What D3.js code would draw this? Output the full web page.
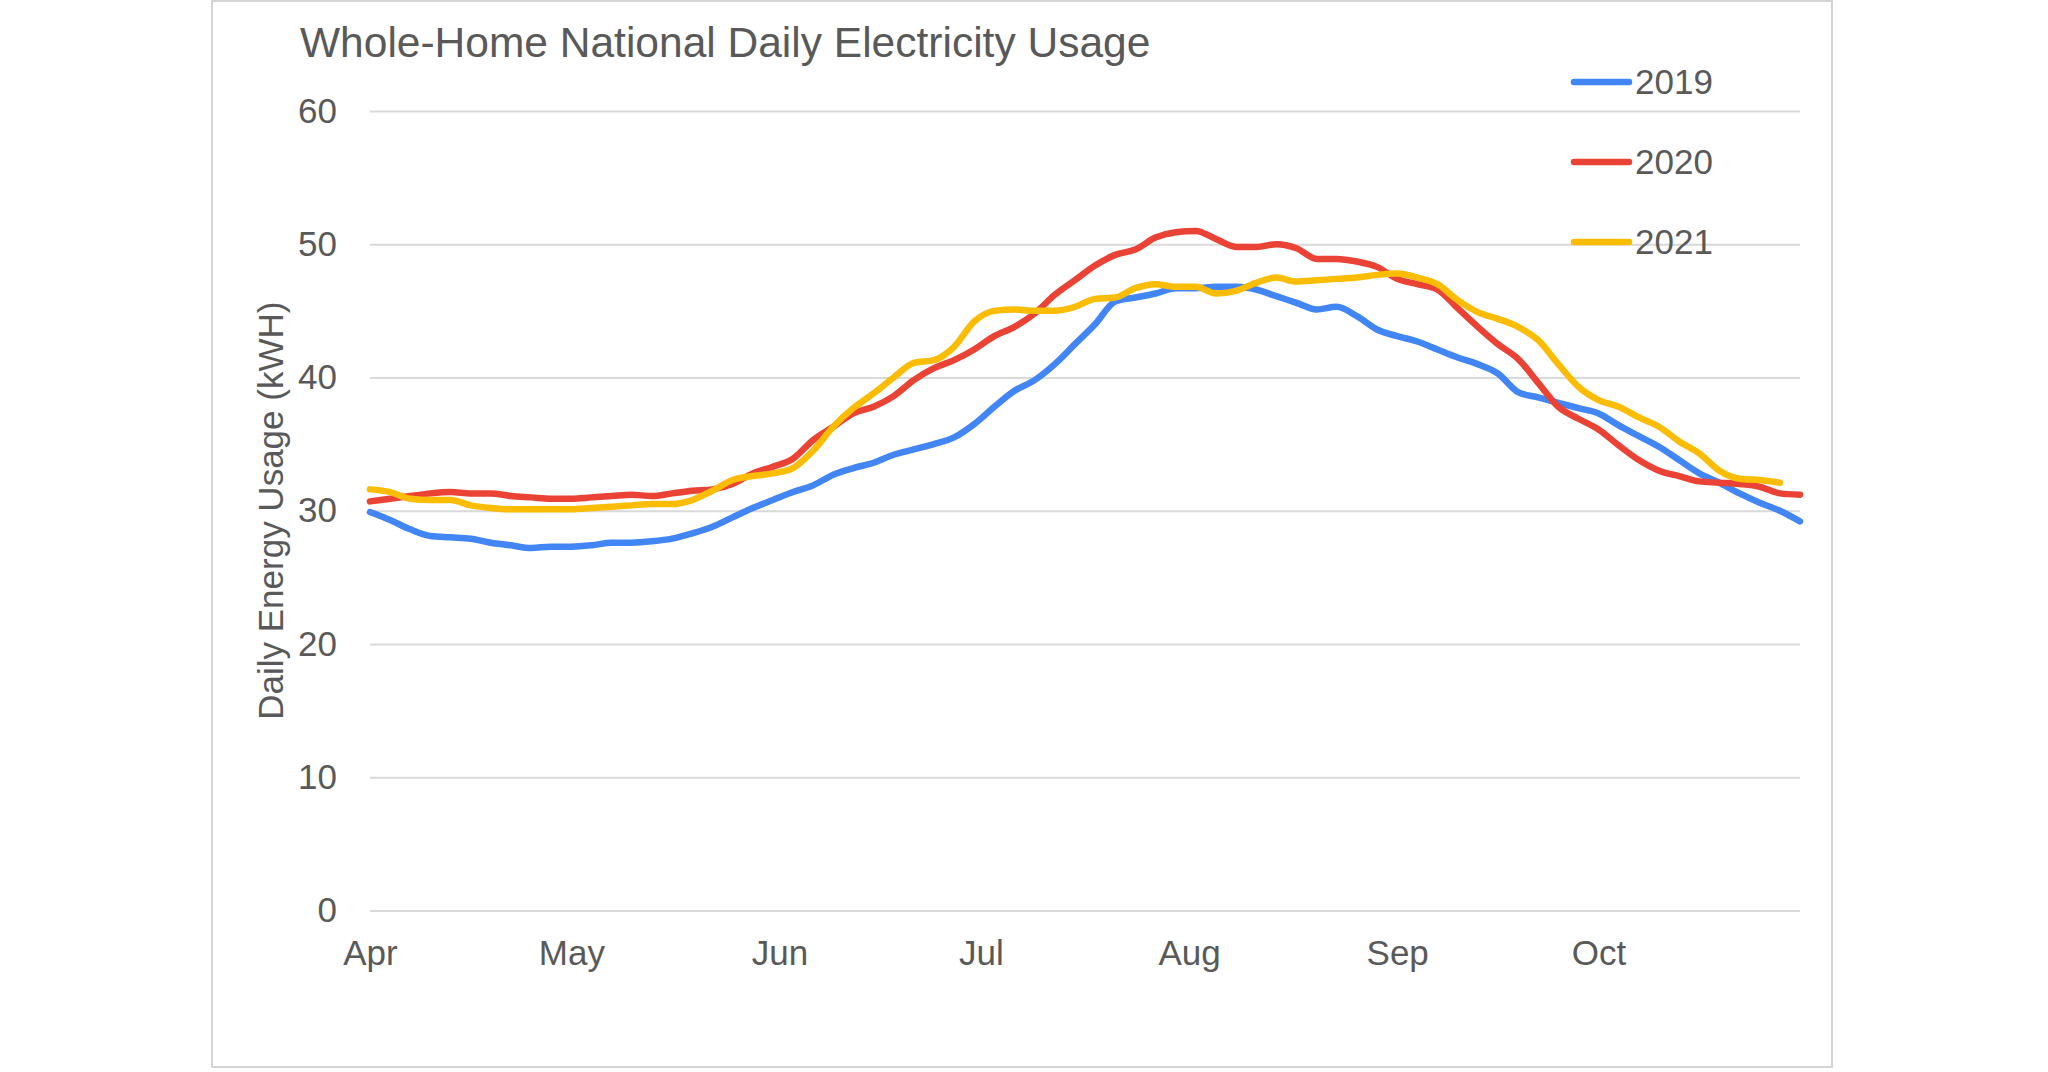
<!DOCTYPE html>
<html>
<head>
<meta charset="utf-8">
<script src="https://cdn.jsdelivr.net/npm/d3@7"></script>
<style>
  html, body { margin: 0; padding: 0; background: #fff; }
  svg { display: block; }
  text { font-family: "Liberation Sans", Arial, sans-serif; fill: #595959; }
</style>
</head>
<body>
<svg id="chart" width="2048" height="1072"></svg>
<script>
// ---- data ----
const title = "Whole-Home National Daily Electricity Usage";
const yTitle = "Daily Energy Usage (kWH)";
const monthLabels = ["Apr", "May", "Jun", "Jul", "Aug", "Sep", "Oct"];
const yTicks = [0, 10, 20, 30, 40, 50, 60];
const seriesNames = ["2019", "2020", "2021"];
const seriesColors = ["#4285F4", "#EA4335", "#FBBC04"];

// day offset from April 1
const days = [0,3,6,9,12,15,18,21,24,27,30,33,36,39,42,45,48,51,54,57,60,63,66,69,72,75,78,81,84,87,90,93,96,99,102,105,108,111,114,117,120,123,126,129,132,135,138,141,144,147,150,153,156,159,162,165,168,171,174,177,180,183,186,189,192,195,198,201,204,207,210,213];

const values2019 = [29.9,29.3,28.6,28.1,28.0,27.9,27.6,27.4,27.2,27.3,27.3,27.4,27.6,27.6,27.7,27.9,28.3,28.8,29.5,30.2,30.8,31.4,31.9,32.7,33.2,33.6,34.2,34.6,35.0,35.5,36.5,37.8,39.0,39.8,41.0,42.5,44.0,45.7,46.0,46.3,46.7,46.7,46.8,46.8,46.6,46.1,45.6,45.1,45.3,44.6,43.6,43.1,42.7,42.1,41.5,41.0,40.3,38.9,38.5,38.1,37.7,37.3,36.4,35.6,34.8,33.8,32.8,32.1,31.3,30.6,30.0,29.2];

const values2020 = [30.7,30.9,31.1,31.3,31.4,31.3,31.3,31.1,31.0,30.9,30.9,31.0,31.1,31.2,31.1,31.3,31.5,31.6,32.0,32.8,33.3,33.9,35.3,36.3,37.3,37.8,38.6,39.8,40.7,41.3,42.1,43.1,43.8,44.8,46.2,47.3,48.4,49.2,49.6,50.5,50.9,51.0,50.4,49.8,49.8,50.0,49.7,48.9,48.9,48.7,48.3,47.4,47.0,46.6,45.2,43.8,42.5,41.4,39.6,37.8,36.9,36.1,34.9,33.8,33.0,32.6,32.2,32.1,32.0,31.8,31.3,31.2];

const values2021 = [31.6,31.4,30.9,30.8,30.8,30.4,30.2,30.1,30.1,30.1,30.1,30.2,30.3,30.4,30.5,30.5,30.8,31.5,32.3,32.6,32.8,33.2,34.5,36.3,37.7,38.8,40.0,41.1,41.3,42.3,44.2,45.0,45.1,45.0,45.0,45.3,45.9,46.0,46.7,47.0,46.8,46.8,46.3,46.5,47.1,47.5,47.2,47.3,47.4,47.5,47.7,47.8,47.5,47.0,45.8,44.9,44.4,43.8,42.8,41.0,39.3,38.3,37.8,37.0,36.3,35.2,34.3,33.0,32.4,32.3,32.1,null];

const seriesValues = [values2019, values2020, values2021];

// ---- layout ----
const svg = d3.select("#chart");
const plot = { left: 370, right: 1800, top: 111, bottom: 910.4 };
const start = new Date(2021, 3, 1);
const end = new Date(2021, 9, 31);

const x = d3.scaleTime().domain([start, end]).range([plot.left, plot.right]);
const y = d3.scaleLinear().domain([0, 60]).range([plot.bottom, plot.top]);

// outer border
svg.append("rect")
  .attr("x", 212).attr("y", 1).attr("width", 1620).attr("height", 1066)
  .attr("fill", "#fff").attr("stroke", "#d4d4d4").attr("stroke-width", 2);

// title
svg.append("text")
  .attr("x", 300).attr("y", 57)
  .style("font-size", "42.5px")
  .text(title);

// y axis: gridlines + labels
const gy = svg.append("g").attr("transform", `translate(${plot.left},0)`);
gy.call(d3.axisLeft(y).tickValues(yTicks).tickSize(-(plot.right - plot.left)).tickPadding(33))
  .call(g => g.select(".domain").remove());
gy.selectAll(".tick line")
  .attr("stroke", "#d9d9d9").attr("stroke-width", 2);
gy.selectAll("text")
  .style("font-size", "35px")
  .style("fill", "#595959")
  .attr("font-family", "Liberation Sans, Arial, sans-serif");

// x axis
const monthStarts = d3.timeMonth.range(start, new Date(2021, 9, 2));
const gx = svg.append("g").attr("transform", `translate(0,${plot.bottom})`);
gx.call(d3.axisBottom(x).tickValues(monthStarts).tickSize(0).tickPadding(30)
    .tickFormat((d, i) => monthLabels[i]))
  .call(g => g.select(".domain").remove());
gx.selectAll("text")
  .style("font-size", "35px")
  .style("fill", "#595959")
  .attr("font-family", "Liberation Sans, Arial, sans-serif");

// y title
svg.append("text")
  .attr("transform", `translate(270,${(plot.top + plot.bottom) / 2}) rotate(-90)`)
  .attr("text-anchor", "middle")
  .attr("dominant-baseline", "central")
  .style("font-size", "35px")
  .text(yTitle);

// lines
const line = d3.line()
  .defined(d => d.v !== null)
  .x(d => x(d3.timeDay.offset(start, d.day)))
  .y(d => y(d.v))
  .curve(d3.curveMonotoneX);

seriesNames.forEach((name, i) => {
  const data = days.map((day, j) => ({ day, v: seriesValues[i][j] }));
  svg.append("path")
    .datum(data)
    .attr("fill", "none")
    .attr("stroke", seriesColors[i])
    .attr("stroke-width", 6.5)
    .attr("stroke-linejoin", "round")
    .attr("stroke-linecap", "round")
    .attr("d", line);
});

// legend
const legend = svg.append("g");
seriesNames.forEach((name, i) => {
  const ly = 82 + i * 80;
  legend.append("line")
    .attr("x1", 1574).attr("x2", 1629)
    .attr("y1", ly).attr("y2", ly)
    .attr("stroke", seriesColors[i]).attr("stroke-width", 6.5)
    .attr("stroke-linecap", "round");
  legend.append("text")
    .attr("x", 1635).attr("y", ly)
    .attr("dy", "0.35em")
    .style("font-size", "35px")
    .text(name);
});
</script>
</body>
</html>
